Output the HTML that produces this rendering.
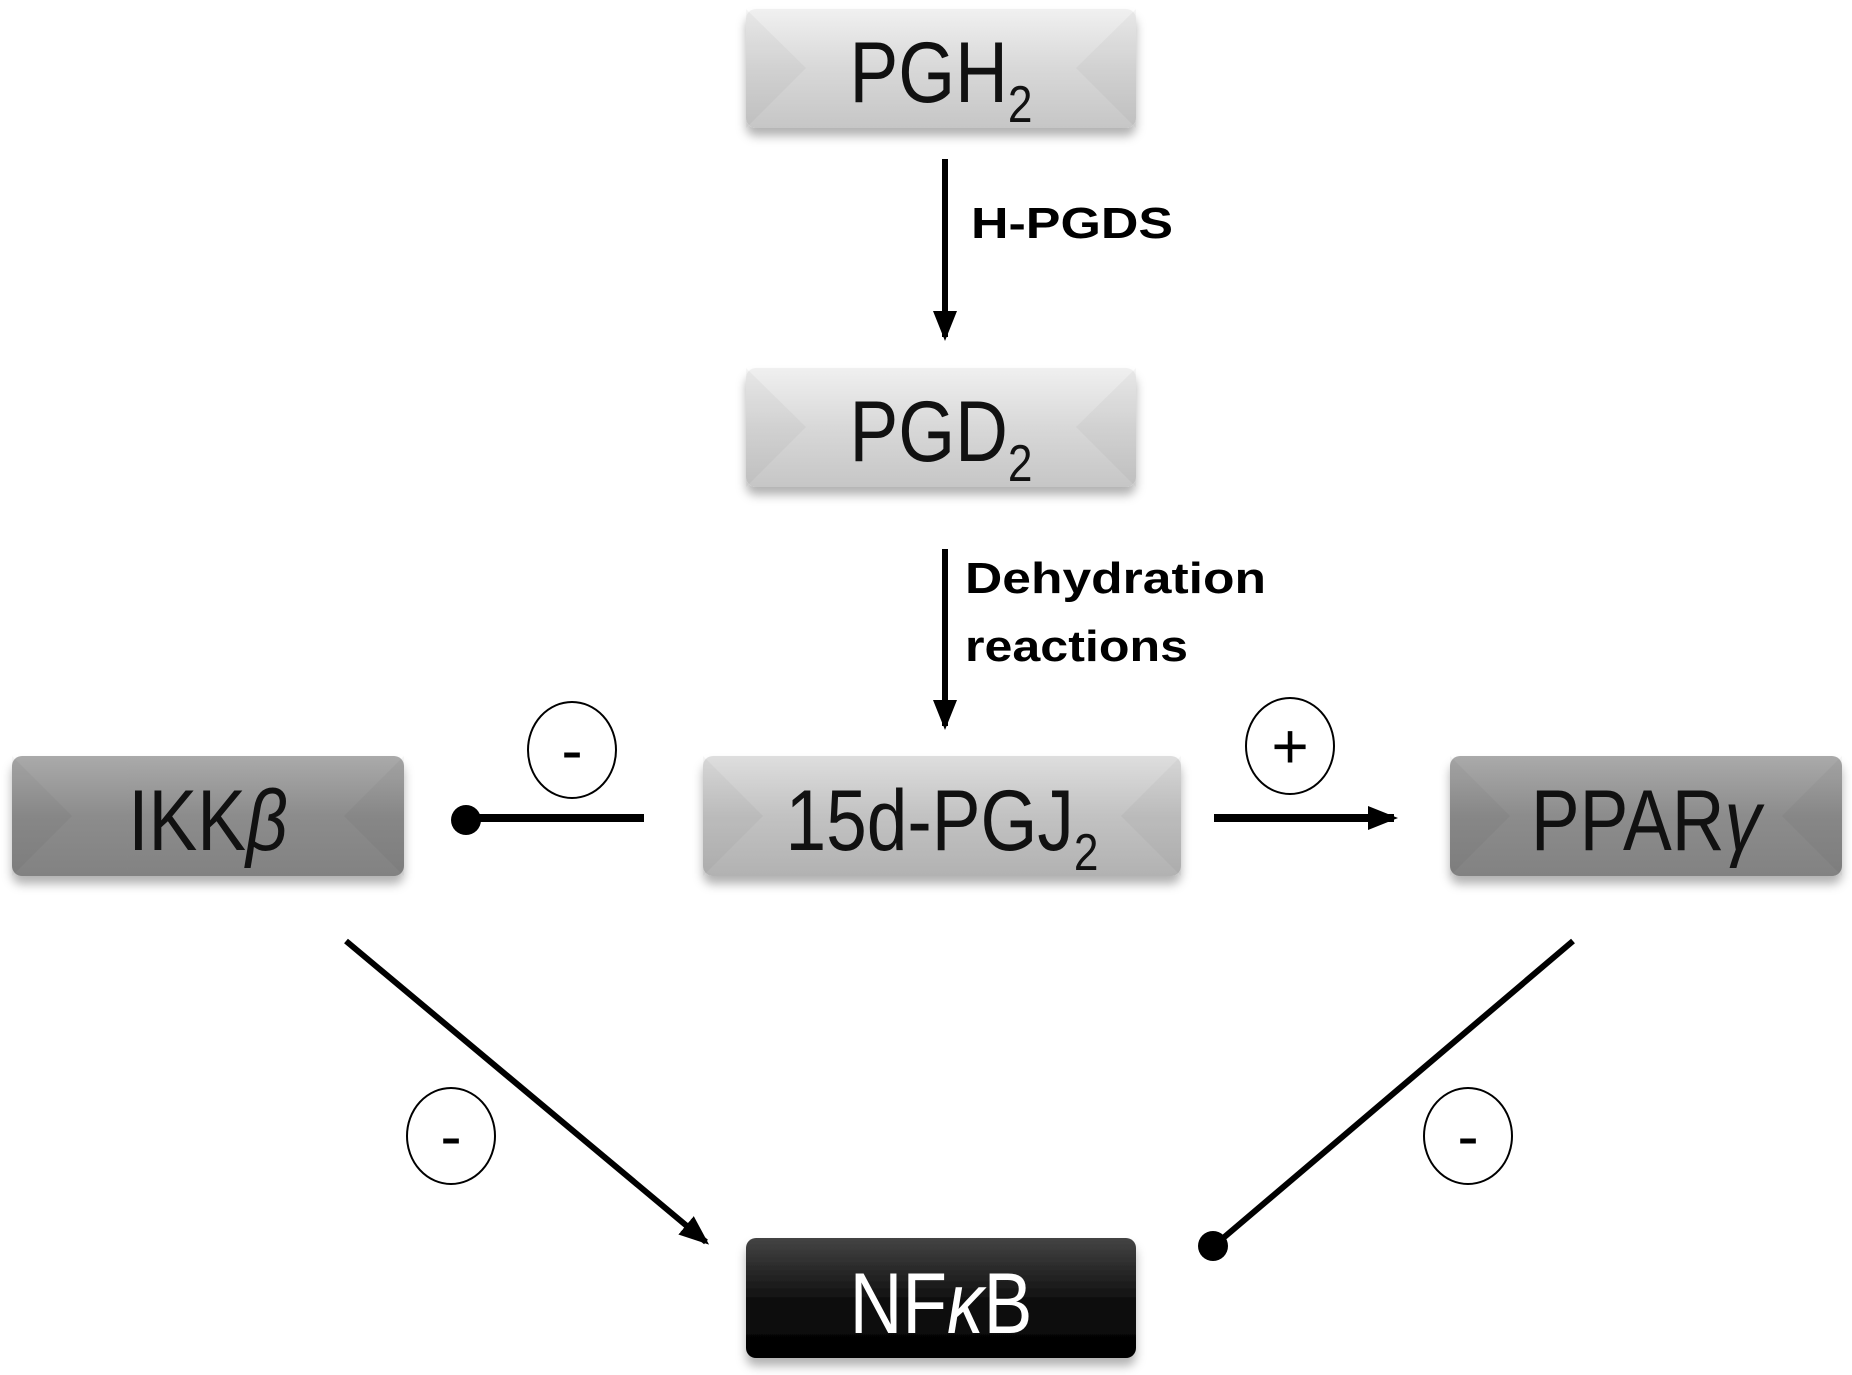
<!DOCTYPE html>
<html><head><meta charset="utf-8"><style>
body{margin:0;background:#fff;}
svg{display:block}
text{font-family:"Liberation Sans",sans-serif;}
</style></head><body>
<svg width="1852" height="1375" viewBox="0 0 1852 1375" xmlns="http://www.w3.org/2000/svg">
<defs>
<linearGradient id="gl" x1="0" y1="0" x2="0" y2="1"><stop offset="0" stop-color="#f0f0f0"/><stop offset="0.5" stop-color="#d8d8d8"/><stop offset="1" stop-color="#c6c6c6"/></linearGradient>
<linearGradient id="gm" x1="0" y1="0" x2="0" y2="1"><stop offset="0" stop-color="#dedede"/><stop offset="0.5" stop-color="#c2c2c2"/><stop offset="1" stop-color="#b2b2b2"/></linearGradient>
<linearGradient id="gd" x1="0" y1="0" x2="0" y2="1"><stop offset="0" stop-color="#aaaaaa"/><stop offset="0.5" stop-color="#8c8c8c"/><stop offset="1" stop-color="#828282"/></linearGradient>
<linearGradient id="gk" x1="0" y1="0" x2="0" y2="1"><stop offset="0" stop-color="#444"/><stop offset="0.5" stop-color="#111"/><stop offset="1" stop-color="#000"/></linearGradient>
<filter id="sh" x="-10%" y="-10%" width="120%" height="140%"><feDropShadow dx="0" dy="8" stdDeviation="5" flood-color="#000" flood-opacity="0.3"/></filter>
<marker id="ar" markerWidth="30" markerHeight="30" refX="26" refY="15" orient="auto" markerUnits="userSpaceOnUse" viewBox="0 0 30 30"><path d="M0,3 L30,15 L0,27 z" fill="#000"/></marker>
</defs>
<g filter="url(#sh)">
<rect x="746" y="9" width="390" height="119" rx="10" fill="url(#gl)"/>
<rect x="746" y="368" width="390" height="119" rx="10" fill="url(#gl)"/>
<rect x="703" y="756" width="478" height="120" rx="10" fill="url(#gm)"/>
<rect x="12" y="756" width="392" height="120" rx="10" fill="url(#gd)"/>
<rect x="1450" y="756" width="392" height="120" rx="10" fill="url(#gd)"/>
<rect x="746" y="1238" width="390" height="120" rx="10" fill="url(#gk)"/>
</g>
<g fill="#000" opacity="0.03">
<polygon points="746,9 806,68 746,128"/><polygon points="1136,9 1076,68 1136,128"/>
<polygon points="746,368 806,427 746,487"/><polygon points="1136,368 1076,427 1136,487"/>
<polygon points="703,756 763,816 703,876"/><polygon points="1181,756 1121,816 1181,876"/>
<polygon points="12,756 72,816 12,876"/><polygon points="404,756 344,816 404,876"/>
<polygon points="1450,756 1510,816 1450,876"/><polygon points="1842,756 1782,816 1842,876"/>
</g>
<g font-size="86" text-anchor="middle" fill="#111">
<text x="941" y="102" transform="translate(941 0) scale(0.85 1) translate(-941 0)">PGH<tspan font-size="52" dy="20">2</tspan></text>
<text x="941" y="461" transform="translate(941 0) scale(0.85 1) translate(-941 0)">PGD<tspan font-size="52" dy="20">2</tspan></text>
<text x="942" y="850" transform="translate(942 0) scale(0.85 1) translate(-942 0)">15d-PGJ<tspan font-size="52" dy="20">2</tspan></text>
<text x="208" y="850" transform="translate(208 0) scale(0.85 1) translate(-208 0)">IKK<tspan font-style="italic">β</tspan></text>
<text x="1646" y="850" transform="translate(1646 0) scale(0.85 1) translate(-1646 0)">PPAR<tspan font-style="italic">γ</tspan></text>
<text x="941" y="1333" fill="#fff" transform="translate(941 0) scale(0.85 1) translate(-941 0)">NF<tspan font-style="italic">κ</tspan>B</text>
</g>
<g stroke="#000" stroke-width="6" fill="none">
<line x1="945" y1="159" x2="945" y2="337" marker-end="url(#ar)" stroke-width="6"/>
<line x1="945" y1="549" x2="945" y2="726" marker-end="url(#ar)" stroke-width="6"/>
<line x1="470" y1="818" x2="644" y2="818" stroke-width="8"/>
<line x1="1214" y1="818" x2="1394" y2="818" marker-end="url(#ar)" stroke-width="8"/>
<line x1="346" y1="941" x2="706" y2="1242" marker-end="url(#ar)"/>
<line x1="1573" y1="941" x2="1215" y2="1245"/>
</g>
<circle cx="466" cy="820" r="15" fill="#000"/>
<circle cx="1213" cy="1246" r="15" fill="#000"/>
<g fill="none" stroke="#000" stroke-width="2">
<ellipse cx="572" cy="750" rx="44" ry="48"/>
<ellipse cx="1290" cy="746" rx="44" ry="48"/>
<ellipse cx="451" cy="1136" rx="44" ry="48"/>
<ellipse cx="1468" cy="1136" rx="44" ry="48"/>
</g>
<g font-size="64" text-anchor="middle" fill="#000">
<text x="572" y="772">-</text><text x="1290" y="768">+</text>
<text x="451" y="1158">-</text><text x="1468" y="1158">-</text>
</g>
<g font-weight="bold" font-size="44" fill="#000">
<text x="971" y="238" textLength="202" lengthAdjust="spacingAndGlyphs">H-PGDS</text>
<text x="965" y="593" textLength="301" lengthAdjust="spacingAndGlyphs">Dehydration</text>
<text x="965" y="661" textLength="223" lengthAdjust="spacingAndGlyphs">reactions</text>
</g>
</svg>
</body></html>
